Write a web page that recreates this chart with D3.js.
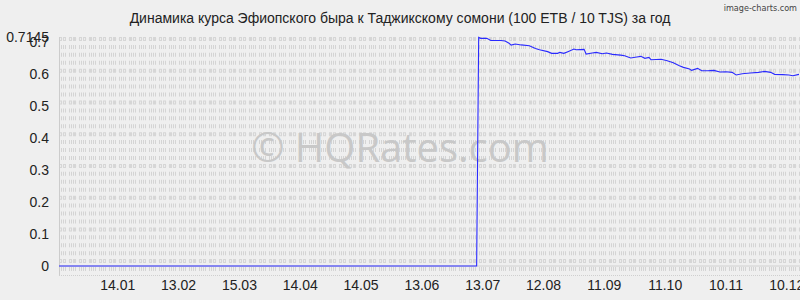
<!DOCTYPE html>
<head>
    <meta charset="utf-8">
    <title>Динамика курса ETB / TJS</title>
    <style>
        html, body {
            margin: 0;
            background: #efefef;
        }
        svg {
            display: block;
            font-family: "Liberation Sans", Arial, sans-serif;
        }
    </style>
</head>
<body>
<script src="https://cdn.jsdelivr.net/npm/d3@7"></script>
<script>

    const width = 800,
        height = 300;

    const title = "Динамика курса Эфиопского быра к Таджикскому сомони (100 ETB / 10 TJS) за год";

    // dates (dd.mm) and rate values
    const dates = [
        "2012-12-16", "2013-01-15", "2013-02-15", "2013-03-15", "2013-04-15", "2013-05-15", "2013-06-15", "2013-07-10",
        "2013-07-11", "2013-07-12", "2013-07-15", "2013-07-17", "2013-07-22", "2013-07-24", "2013-07-26", "2013-07-27",
        "2013-07-29", "2013-08-01", "2013-08-05", "2013-08-08", "2013-08-10", "2013-08-14", "2013-08-16", "2013-08-19",
        "2013-08-20", "2013-08-22", "2013-08-24", "2013-08-27", "2013-08-28", "2013-09-01", "2013-09-02", "2013-09-05",
        "2013-09-07", "2013-09-10", "2013-09-12", "2013-09-15", "2013-09-19", "2013-09-21", "2013-09-24", "2013-09-27",
        "2013-09-29", "2013-10-01", "2013-10-03", "2013-10-04", "2013-10-09", "2013-10-12", "2013-10-15", "2013-10-18",
        "2013-10-20", "2013-10-23", "2013-10-24", "2013-10-27", "2013-10-29", "2013-11-01", "2013-11-04", "2013-11-07",
        "2013-11-10", "2013-11-13", "2013-11-15", "2013-11-18", "2013-11-22", "2013-11-26", "2013-11-29", "2013-12-02",
        "2013-12-04", "2013-12-08", "2013-12-11", "2013-12-13", "2013-12-16"
    ];
    const rates = [
        0, 0, 0, 0, 0, 0, 0, 0,
        0.7145, 0.7115, 0.7115, 0.705, 0.705, 0.703, 0.696, 0.6906,
        0.694, 0.691, 0.6885, 0.680, 0.676, 0.670, 0.6646, 0.6646,
        0.6677, 0.6646, 0.670, 0.678, 0.676, 0.677, 0.6625, 0.6656,
        0.6677, 0.6635, 0.6656, 0.6615, 0.659, 0.657, 0.650, 0.653,
        0.6552, 0.649, 0.652, 0.6448, 0.646, 0.6417, 0.6354, 0.626,
        0.6208, 0.6156, 0.6115, 0.6177, 0.6104, 0.6104, 0.6115, 0.6063,
        0.6073, 0.6052, 0.5969, 0.601, 0.6031, 0.6052, 0.6083, 0.6052,
        0.599, 0.598, 0.5969, 0.5948, 0.599
    ];

    const xTickDates = ["2013-01-14", "2013-02-13", "2013-03-15", "2013-04-14", "2013-05-14", "2013-06-13",
        "2013-07-13", "2013-08-12", "2013-09-11", "2013-10-11", "2013-11-10", "2013-12-10"];
    const yTicks = [0, 0.1, 0.2, 0.3, 0.4, 0.5, 0.6, 0.7];
    const yMax = 0.7145;

    const parse = d3.timeParse("%Y-%m-%d");
    const data = dates.map((d, i) => ({date: parse(d), value: rates[i]}));

    const plot = {left: 59, right: 799, top: 37, bottom: 275};

    const x = d3.scaleTime()
        .domain([parse("2012-12-16"), parse("2013-12-16")])
        .range([plot.left, plot.right]);

    const y = d3.scaleLinear()
        .domain([0, yMax])
        .range([266, 37.4]);

    const svg = d3.select("body").append("svg")
        .attr("width", width)
        .attr("height", height);

    // background grid: 30 bands of short dashes
    const rows = 30;
    const step = (plot.bottom - plot.top) / rows;
    const grid = svg.append("g");
    for (let k = 0; k < rows; k++) {
        const yy = plot.bottom - step * (k + 0.75);
        const major = k % 4 === 1;
        if (major) {
            grid.append("line")
                .attr("x1", plot.left).attr("x2", width)
                .attr("y1", yy).attr("y2", yy)
                .attr("stroke", "#d6d6d6")
                .attr("stroke-width", 4)
                .attr("stroke-dasharray", "3,1,3,3");
            grid.append("line")
                .attr("x1", plot.left).attr("x2", width)
                .attr("y1", yy).attr("y2", yy)
                .attr("stroke", "#ececec")
                .attr("stroke-width", 2)
                .attr("stroke-dasharray", "1,1,1,1,1,3")
                .attr("stroke-dashoffset", -1);
        } else {
            grid.append("line")
                .attr("x1", plot.left).attr("x2", width)
                .attr("y1", yy).attr("y2", yy)
                .attr("stroke", "#d4d4d4")
                .attr("stroke-width", 4)
                .attr("stroke-dasharray", "1,1,1,1,1,1,1,3");
        }
    }

    // zero line, bottom dotted line, left axis line
    svg.append("line")
        .attr("x1", plot.left).attr("x2", width)
        .attr("y1", y(0)).attr("y2", y(0))
        .attr("stroke", "#d0d0d0");
    svg.append("line")
        .attr("x1", plot.left).attr("x2", width)
        .attr("y1", plot.bottom + 0.5).attr("y2", plot.bottom + 0.5)
        .attr("stroke", "#cfcfcf")
        .attr("stroke-dasharray", "1,1");
    svg.append("line")
        .attr("x1", plot.left + 0.5).attr("x2", plot.left + 0.5)
        .attr("y1", plot.top).attr("y2", plot.bottom)
        .attr("stroke", "#cccccc");

    // watermark
    svg.append("text")
        .attr("x", 400)
        .attr("y", 162)
        .attr("text-anchor", "middle")
        .style("font-family", "'Open Sans', sans-serif")
        .style("font-size", "40px")
        .attr("fill", "#c8c8c8")
        .text("© HQRates.com");

    // y labels
    svg.append("g")
        .selectAll("text")
        .data(yTicks.concat([yMax]))
        .enter().append("text")
        .attr("x", 49)
        .attr("y", d => y(d))
        .attr("dy", "0.35em")
        .attr("text-anchor", "end")
        .style("font-size", "14px")
        .attr("fill", "#222")
        .text(d => d);

    // x labels
    const fmt = d3.timeFormat("%d.%m");
    svg.append("g")
        .selectAll("text")
        .data(xTickDates.map(parse))
        .enter().append("text")
        .attr("x", d => x(d))
        .attr("y", 290)
        .attr("text-anchor", "middle")
        .style("font-size", "14px")
        .attr("fill", "#222")
        .text(d => fmt(d));

    // series
    const line = d3.line()
        .x(d => x(d.date))
        .y(d => y(d.value));

    svg.append("path")
        .datum(data)
        .attr("d", line)
        .attr("fill", "none")
        .attr("stroke", "#2a2aff")
        .attr("stroke-width", 1.1);

    // title
    svg.append("text")
        .attr("x", 400)
        .attr("y", 23)
        .attr("text-anchor", "middle")
        .style("font-size", "14px")
        .attr("fill", "#222")
        .text(title);

    svg.append("text")
        .attr("x", 797)
        .attr("y", 11)
        .attr("text-anchor", "end")
        .style("font-family", "'DejaVu Sans Condensed', sans-serif")
        .style("font-size", "9px")
        .attr("fill", "#444")
        .text("image-charts.com");

</script>
</body>
